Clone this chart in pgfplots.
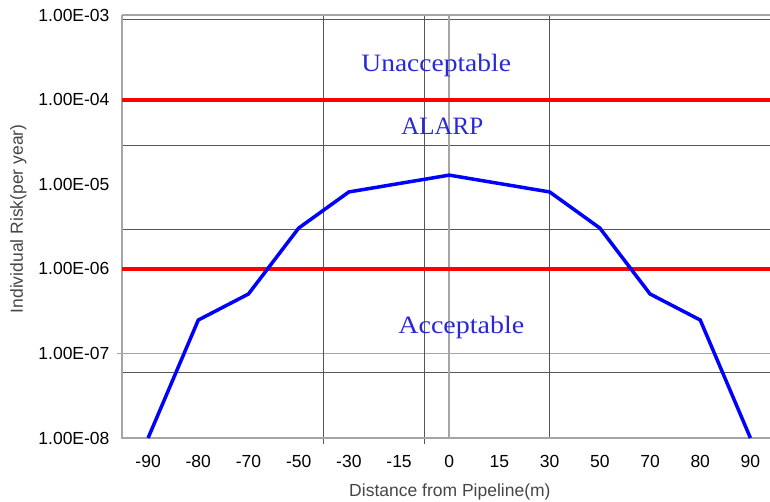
\documentclass[border=0pt]{standalone}
\usepackage{pgfplots}
\pgfplotsset{compat=1.18}
\usepackage{fontspec}
\setmainfont{Liberation Sans}
\newfontfamily\serifjp{Liberation Serif}
\usepackage{graphicx}

\definecolor{gridd}{RGB}{85,85,85}
\definecolor{gridl}{RGB}{165,165,165}
\definecolor{txtblue}{RGB}{40,40,215}
\definecolor{labgray}{RGB}{70,70,70}

\begin{document}
\begin{tikzpicture}
\begin{axis}[
  at={(0,0)}, anchor=south west,
  scale only axis, width=648pt, height=423pt,
  ymode=log, log basis y=10,
  ymin=1e-8, ymax=1e-3,
  xmin=-0.52, xmax=12.39,
  xtick={0,1,2,3,4,5,6,7,8,9,10,11,12},
  xticklabels={-90,-80,-70,-50,-30,-15,0,15,30,50,70,80,90},
  ytick={1e-8,1e-7,1e-6,1e-5,1e-4,1e-3},
  yticklabels={1.00E-08,1.00E-07,1.00E-06,1.00E-05,1.00E-04,1.00E-03},
  major tick length=0pt, minor tick length=0pt, yminorticks=false,
  axis line style={draw=none},
  tick label style={font=\fontsize{17.5}{20}\selectfont},
  yticklabel style={xshift=-9pt},
  xticklabel style={yshift=-14pt},
  xlabel={Distance from Pipeline(m)},
  ylabel={Individual Risk(per year)},
  label style={font=\fontsize{17.5}{20}\selectfont, text=labgray},
  xlabel style={at={(axis description cs:0.506,0)}, anchor=center, yshift=-54pt},
  ylabel style={at={(axis description cs:-0.160,0.518)}, anchor=center},
  clip=false,
]
% grid lines
\draw[gridd, line width=0.9pt] (axis cs:-0.52,8.97e-4) -- (axis cs:12.39,8.97e-4);
\draw[gridd, line width=0.9pt] (axis cs:-0.52,2.9e-5) -- (axis cs:12.39,2.9e-5);
\draw[gridd, line width=0.9pt] (axis cs:-0.52,2.95e-6) -- (axis cs:12.39,2.95e-6);
\draw[gridd, line width=0.9pt] (axis cs:-0.52,6.03e-8) -- (axis cs:12.39,6.03e-8);
\draw[gridl, line width=1.2pt] (axis cs:-0.62,1e-7) -- (axis cs:12.39,1e-7);
\draw[gridd, line width=0.9pt] (axis cs:3.5,1e-3) -- ([yshift=-6pt]axis cs:3.5,1e-8);
\draw[gridd, line width=0.9pt] (axis cs:5.5,1e-3) -- ([yshift=-6pt]axis cs:5.5,1e-8);
\draw[gridl, line width=1.6pt] (axis cs:6,1e-3) -- (axis cs:6,1e-8);
\draw[gridd, line width=0.9pt] (axis cs:8,1e-3) -- (axis cs:8,1e-8);
% axis borders
\draw[gridl, line width=1.2pt] (axis cs:-0.52,1e-3) -- (axis cs:12.39,1e-3);
\draw[gridl, line width=1.2pt] (axis cs:-0.52,1e-3) -- (axis cs:-0.52,1e-8) -- (axis cs:12.39,1e-8);
% limit lines
\addplot[red, line width=4pt, forget plot] coordinates {(-0.52,1e-4) (12.39,1e-4)};
\addplot[red, line width=4pt, forget plot] coordinates {(-0.52,1e-6) (12.39,1e-6)};
% risk curve
\addplot[blue, line width=3.5pt, line join=miter, forget plot] coordinates {
 (0,1e-8) (1,2.48e-7) (2,5.04e-7) (3,3.03e-6) (4,8.1e-6) (6,1.28e-5)
 (8,8.1e-6) (9,3.03e-6) (10,5.04e-7) (11,2.48e-7) (12,1e-8)};
% region labels
\node[txtblue, anchor=base, inner sep=0pt, font=\serifjp\fontsize{25}{28}\selectfont] at (axis cs:5.74,2.12e-4) {\scalebox{1.1}[1]{Unacceptable}};
\node[txtblue, anchor=base, inner sep=0pt, font=\serifjp\fontsize{25}{28}\selectfont] at (axis cs:5.86,3.82e-5) {ALARP};
\node[txtblue, anchor=base, inner sep=0pt, font=\serifjp\fontsize{25}{28}\selectfont] at (axis cs:6.24,1.74e-7) {\scalebox{1.12}[1]{Acceptable}};
\end{axis}
\pgfresetboundingbox
\path[use as bounding box] (-122pt,-64pt) rectangle (648pt,438pt);
\end{tikzpicture}
\end{document}
